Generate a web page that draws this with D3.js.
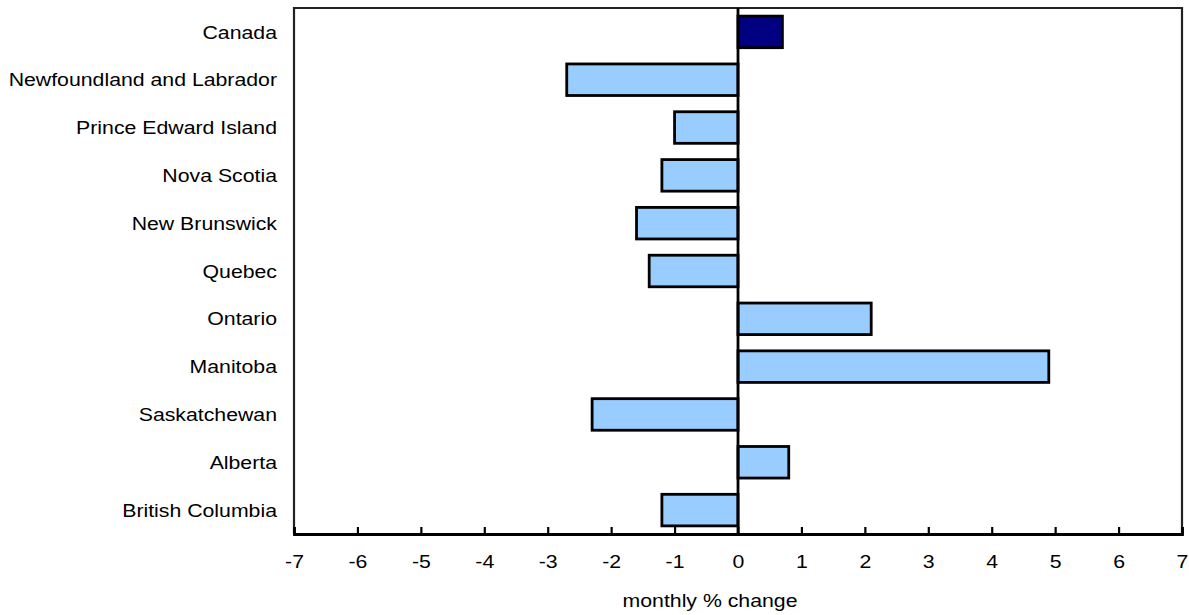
<!DOCTYPE html>
<html><head><meta charset="utf-8">
<script src="https://cdn.jsdelivr.net/npm/d3@7"></script>
<style>body{margin:0;background:#fff}svg{display:block}text{font-family:"Liberation Sans",Arial,Helvetica,sans-serif;fill:#000}</style>
</head><body>
<svg id="c" width="1189" height="615"></svg>
<script>
const categories = ["Canada","Newfoundland and Labrador","Prince Edward Island","Nova Scotia","New Brunswick","Quebec","Ontario","Manitoba","Saskatchewan","Alberta","British Columbia"];
const values = [0.7,-2.7,-1.0,-1.2,-1.6,-1.4,2.1,4.9,-2.3,0.8,-1.2];
const xTicks = [-7,-6,-5,-4,-3,-2,-1,0,1,2,3,4,5,6,7];
const xTitle = "monthly % change";

const svg = d3.select("#c");
const L = 294, R = 1182, T = 8, B = 534;
const fs = 18.5, sx = 1.15;
const x = d3.scaleLinear().domain([-7,7]).range([L,R]);
const y = d3.scaleBand().domain(categories).range([T,B]).paddingInner(0.34).paddingOuter(0.17);

// bars
svg.append("g").selectAll("rect").data(categories).join("rect")
  .attr("x",(d,i)=>x(Math.min(0,values[i])))
  .attr("width",(d,i)=>Math.abs(x(values[i])-x(0)))
  .attr("y",d=>y(d)).attr("height",y.bandwidth())
  .attr("fill",(d,i)=>i===0?"#000080":"#99ccff")
  .attr("stroke","#000").attr("stroke-width",2.8);

// frame
const fr = svg.append("g").attr("fill","none");
fr.append("path").attr("d",`M${L},${B}V${T}H${R}V${B}`).attr("stroke","#222").attr("stroke-width",2.2);
// zero line
fr.append("line").attr("x1",x(0)).attr("x2",x(0)).attr("y1",T).attr("y2",B).attr("stroke","#000").attr("stroke-width",2.8);

// x axis
const ax = svg.append("g").attr("transform",`translate(0,${B})`)
  .call(d3.axisBottom(x).tickValues(xTicks).tickSize(-7).tickPadding(0).tickFormat(d=>String(d)));
ax.select(".domain").attr("stroke","#000").attr("stroke-width",2.8);
ax.selectAll(".tick line").attr("stroke","#000").attr("stroke-width",2.2);
ax.selectAll(".tick text").attr("y",null).attr("dy",null)
  .attr("transform","translate(0,34) scale(1.15,1)")
  .style("font-size",fs+"px").style("font-family",'"Liberation Sans",Arial,sans-serif').attr("fill","#000");

// y labels
svg.append("g").selectAll("text").data(categories).join("text")
  .attr("transform",d=>`translate(277,${y(d)+y.bandwidth()/2+fs*0.36}) scale(${sx},1)`)
  .attr("text-anchor","end").style("font-size",fs+"px").text(d=>d);

// title
svg.append("text").attr("transform",`translate(710,607) scale(${sx},1)`)
  .attr("text-anchor","middle").style("font-size",fs+"px").text(xTitle);
</script>
</body></html>
